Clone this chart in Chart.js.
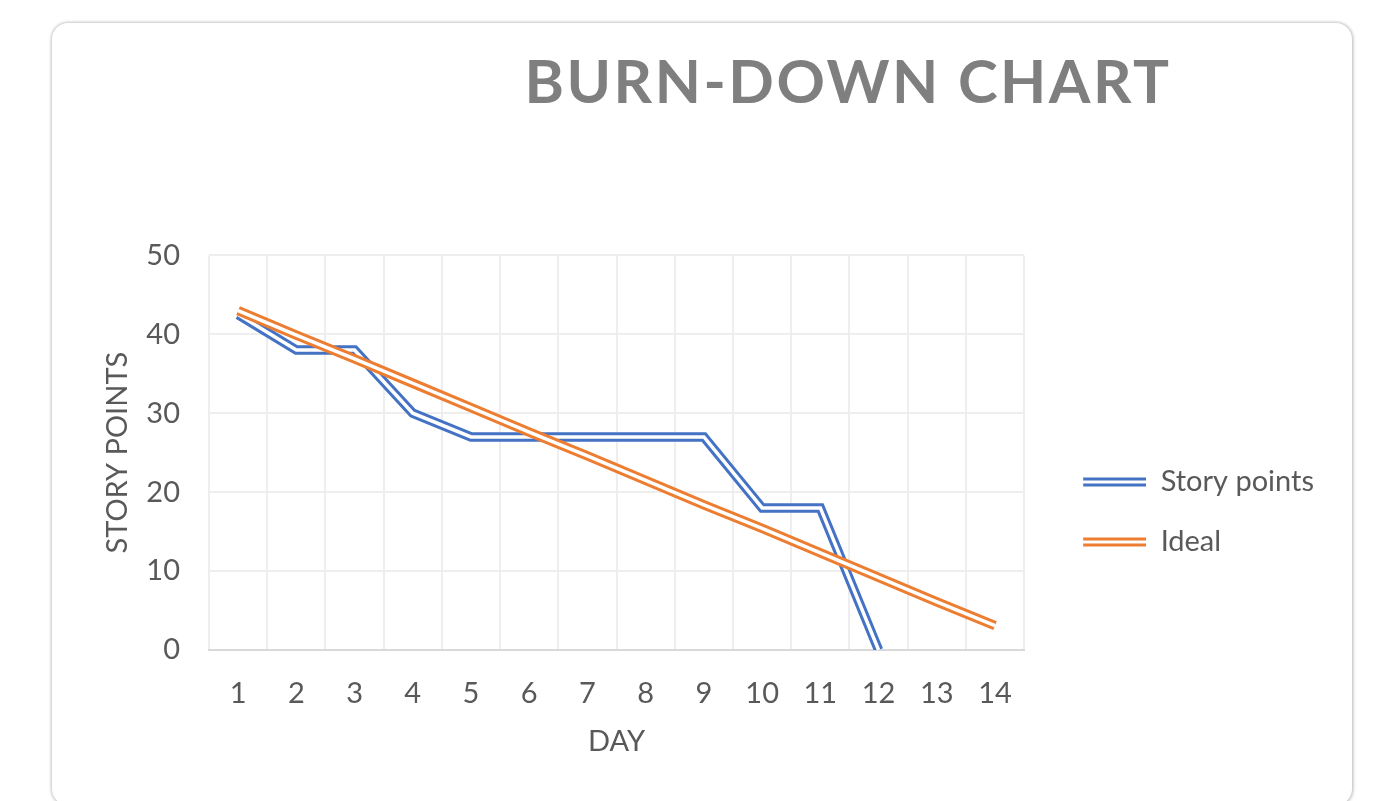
<!DOCTYPE html>
<html>
<head>
<meta charset="utf-8">
<script src="https://cdn.jsdelivr.net/npm/chart.js@4.4.1/dist/chart.umd.min.js"></script>
<style>
  body { margin: 0; background: #fff; width: 1378px; height: 801px; overflow: hidden; position: relative; }
  #card {
    position: absolute; left: 52px; top: 23px; width: 1300px; height: 782px;
    background: #fff; border-radius: 16px;
    box-shadow: 0 0 3px 1px rgba(0,0,0,.2), 1px 1px 4px rgba(0,0,0,.1);
  }
  #title {
    position: absolute; left: 0; top: 50px; width: 1696px; text-align: center;
    font: 700 60px/60px Lato, sans-serif; letter-spacing: 2.5px; color: #7f7f7f;
  }
  #wrap { position: absolute; left: 95px; top: 209px; width: 1229px; height: 570px; }
</style>
</head>
<body>
<div id="card"></div>
<div id="title">BURN-DOWN CHART</div>
<div id="wrap"><canvas id="chart"></canvas></div>
<script>
// ---- data ----
const days        = ['1','2','3','4','5','6','7','8','9','10','11','12','13','14'];
const storyPoints = [42.5, 38, 38, 30, 27, 27, 27, 27, 27, 18, 18, 0, null, null];
const ideal       = [43, 39.9, 36.9, 33.8, 30.7, 27.6, 24.6, 21.5, 18.4, 15.4, 12.3, 9.2, 6.1, 3.1];
const yTicks      = [0, 10, 20, 30, 40, 50];

const BLUE = '#4472C4';
const ORANGE = '#ED7D31';
const TXT = '#595959';

// double line legend icon (Excel "double" compound line)
function legendIcon(color) {
  const c = document.createElement('canvas');
  c.width = 91; c.height = 12;
  const g = c.getContext('2d');
  g.fillStyle = color;
  g.fillRect(28, 1.5, 63, 3);
  g.fillRect(28, 7.5, 63, 3);
  return c;
}

// outer coloured stroke + white inner stroke = double line
function doubleLine(label, data, color, order) {
  const base = { data, pointRadius: 0, borderJoinStyle: 'miter', borderCapStyle: 'butt', tension: 0, spanGaps: false };
  return [
    { ...base, label, borderColor: color, backgroundColor: color, borderWidth: 9.5, order: order + 1, icon: legendIcon(color) },
    { ...base, label: label + ' inner', borderColor: '#ffffff', borderWidth: 3.5, order, inner: true }
  ];
}

Chart.defaults.font.family = 'Lato, "Open Sans", sans-serif';
Chart.defaults.color = TXT;

new Chart(document.getElementById('chart'), {
  type: 'line',
  data: {
    labels: days,
    datasets: [
      ...doubleLine('Story points', storyPoints, BLUE, 3),
      ...doubleLine('Ideal', ideal, ORANGE, 1)
    ]
  },
  options: {
    responsive: true,
    maintainAspectRatio: false,
    animation: false,
    layout: { padding: { top: 46, bottom: 10, left: 0, right: 0 } },
    plugins: {
      tooltip: { enabled: false },
      legend: {
        position: 'right',
        labels: {
          usePointStyle: true,
          pointStyleWidth: 91,
          padding: 31,
          color: TXT,
          font: { size: 29 },
          filter: (item, data) => !data.datasets[item.datasetIndex].inner,
          sort: (a, b) => a.datasetIndex - b.datasetIndex,
          generateLabels: (chart) => {
            const items = Chart.defaults.plugins.legend.labels.generateLabels(chart);
            items.forEach(it => { it.pointStyle = chart.data.datasets[it.datasetIndex].icon; });
            return items;
          }
        }
      }
    },
    scales: {
      x: {
        offset: true,
        afterFit: (s) => { s.height = 119; },
        grid: { offset: true, color: '#eeeeee', lineWidth: 2, drawTicks: false },
        border: { color: '#d9d9d9', width: 2 },
        ticks: { padding: 26, font: { size: 29 }, color: TXT },
        title: { display: true, text: 'DAY', color: TXT, font: { size: 29 }, padding: { top: 14, bottom: 10 } }
      },
      y: {
        min: 0,
        max: 50,
        afterFit: (s) => { s.width = 114; },
        afterBuildTicks: (s) => { s.ticks = yTicks.map(v => ({ value: v })); },
        grid: { color: '#eeeeee', lineWidth: 2, drawTicks: false },
        border: { display: false },
        ticks: { padding: 29, font: { size: 29 }, color: TXT },
        title: { display: true, text: 'STORY POINTS', color: TXT, font: { size: 29 }, padding: { top: 5, bottom: 0 } }
      }
    }
  }
});
</script>
</body>
</html>
